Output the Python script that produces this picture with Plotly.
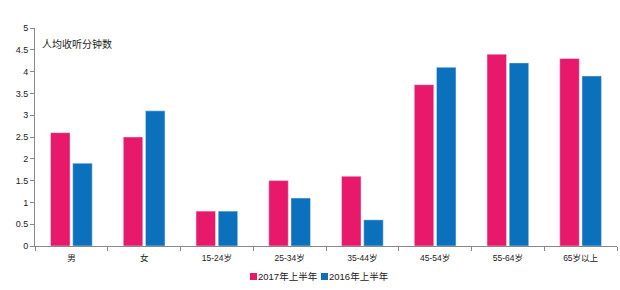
import plotly.graph_objects as go

categories = ["男", "女", "15-24岁", "25-34岁", "35-44岁", "45-54岁", "55-64岁", "65岁以上"]
series_2017 = [2.6, 2.5, 0.8, 1.5, 1.6, 3.7, 4.4, 4.3]
series_2016 = [1.9, 3.1, 0.8, 1.1, 0.6, 4.1, 4.2, 3.9]
series_names = ["2017年上半年", "2016年上半年"]
y_ticks = [0, 0.5, 1, 1.5, 2, 2.5, 3, 3.5, 4, 4.5, 5]
y_title = "人均收听分钟数"
colors = ["#E8196B", "#0C71BC"]

FONT = "Liberation Sans, Noto Sans CJK SC, sans-serif"
W, H = 620, 290
ML, MR, MT, MB = 35, 3, 28, 44
PW, PH = W - ML - MR, H - MT - MB

fig = go.Figure()
fig.add_trace(go.Bar(name=series_names[0], x=categories, y=series_2017, marker_color=colors[0], showlegend=False))
fig.add_trace(go.Bar(name=series_names[1], x=categories, y=series_2016, marker_color=colors[1], showlegend=False))

# custom compact legend (pixel positions converted to paper coords)
def px_x(x):
    return (x - ML) / PW

def px_y(y):
    return (H - MB - y) / PH

shapes = []
annotations = [dict(text=y_title, xref="paper", yref="paper", x=px_x(40), y=px_y(44),
                    xanchor="left", yanchor="middle", showarrow=False,
                    font=dict(size=10, color="#222"))]
leg_x = [250, 321]
for i, name in enumerate(series_names):
    x0 = leg_x[i]
    shapes.append(dict(type="rect", xref="paper", yref="paper",
                       x0=px_x(x0), x1=px_x(x0 + 7), y0=px_y(280), y1=px_y(273),
                       fillcolor=colors[i], line=dict(width=0)))
    annotations.append(dict(text=name, xref="paper", yref="paper", x=px_x(x0 + 7), y=px_y(276.5),
                            xanchor="left", yanchor="middle", showarrow=False, borderpad=0,
                            font=dict(size=9.5, color="#222")))

fig.update_layout(
    width=W, height=H,
    margin=dict(l=ML, r=MR, t=MT, b=MB),
    paper_bgcolor="white", plot_bgcolor="white",
    barmode="group", bargap=0.39, bargroupgap=0.12,
    font=dict(family=FONT, size=9, color="#333"),
    showlegend=False,
    xaxis=dict(showline=True, linecolor="#888", linewidth=1, ticks="outside", ticklen=4,
               tickcolor="#888", tickson="boundaries", showgrid=False,
               ticklabelstandoff=4,
               tickfont=dict(size=8.5, color="#222")),
    yaxis=dict(range=[0, 5], tickvals=y_ticks, showline=True, linecolor="#888", linewidth=1,
               ticks="outside", ticklen=4, tickcolor="#888", showgrid=False, zeroline=False,
               tickfont=dict(size=9, color="#222")),
    shapes=shapes,
    annotations=annotations,
)

fig.write_html("out.html")
